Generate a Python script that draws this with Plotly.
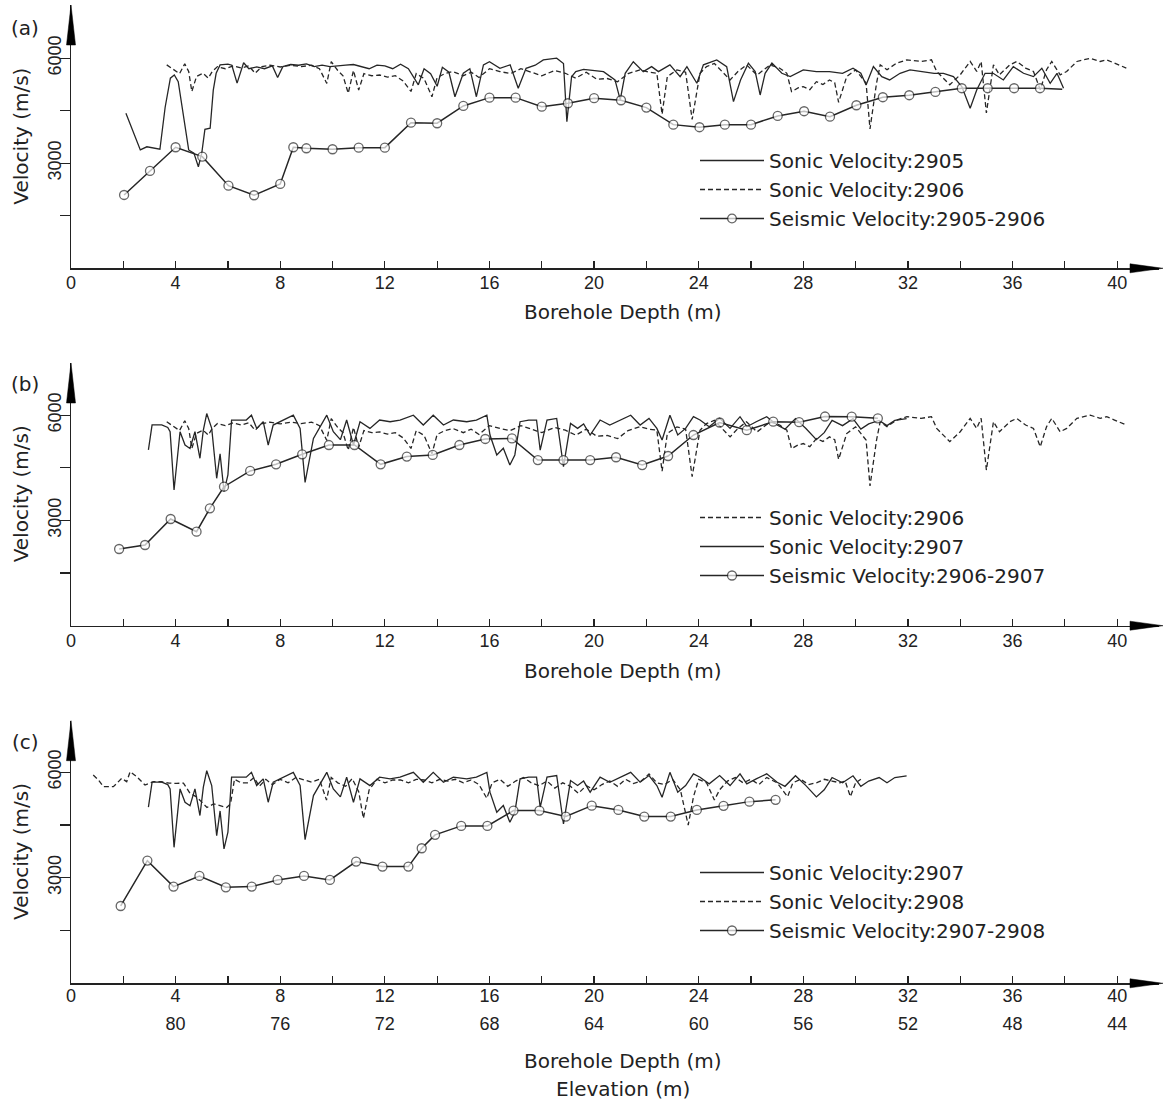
import plotly.graph_objects as go

W, H = 1164, 1102

# ---------------- data ----------------
DEPTH_TICKS = list(range(0, 41, 2))
DEPTH_LABELS = [str(d) if d % 4 == 0 else "" for d in DEPTH_TICKS]
ELEV_TICKS = [80, 76, 72, 68, 64, 60, 56, 52, 48, 44]
VEL_TICKS = [1500, 3000, 4500, 6000]
VEL_LABELS = ["", "3000", "", "6000"]

# Sonic velocity logs (depth m, velocity m/s)
SONIC_2905 = [(2.1, 4430), (2.65, 3380), (2.9, 3470), (3.15, 3430), (3.4, 3400), (3.6, 4600), (3.8, 5430),
              (3.95, 5520), (4.1, 5330), (4.5, 3380), (4.7, 3290), (4.87, 2900), (5.0, 3290), (5.12, 3970),
              (5.32, 4000), (5.44, 5090), (5.55, 5570), (5.7, 5810), (6.0, 5830), (6.15, 5800), (6.35, 5290),
              (6.6, 5870), (6.8, 5700), (7.1, 5750), (7.4, 5700), (7.7, 5780), (7.9, 5450), (8.1, 5760),
              (8.4, 5820), (8.7, 5800), (9.0, 5840), (9.3, 5760), (9.6, 5800), (9.9, 5760), (10.2, 5770),
              (10.5, 5800), (10.8, 5820), (11.1, 5750), (11.4, 5700), (11.7, 5800), (12.0, 5780), (12.3, 5700),
              (12.6, 5830), (12.9, 5700), (13.28, 5240), (13.5, 5700), (13.75, 5560), (14.0, 5200), (14.2, 5740),
              (14.45, 5600), (14.68, 4900), (15.0, 5570), (15.25, 5700), (15.5, 4900), (15.77, 5810), (16.0, 5900),
              (16.4, 5710), (16.79, 5810), (17.1, 5140), (17.4, 5710), (17.75, 5800), (18.06, 5950), (18.57, 6000),
              (18.83, 5850), (18.96, 4190), (19.14, 5470), (19.3, 5620), (19.6, 5680), (19.85, 5666), (20.36, 5617),
              (20.8, 5380), (21.0, 4810), (21.19, 5569), (21.5, 5900), (21.88, 5617), (22.2, 5760), (22.46, 5617),
              (22.9, 5810), (23.29, 5475), (23.55, 5760), (23.93, 5285), (24.18, 5810), (24.69, 5950), (25.07, 5760),
              (25.33, 4760), (25.6, 5380), (25.9, 5860), (26.16, 5617), (26.35, 4950), (26.54, 5570), (26.8, 5860),
              (27.18, 5570), (27.5, 5475), (28.0, 5666), (28.5, 5617), (29.0, 5617), (29.5, 5570), (29.9, 5714),
              (30.2, 5570), (30.4, 5237), (30.68, 5760), (31.0, 5475), (31.3, 5380), (31.7, 5570), (32.08, 5666),
              (32.5, 5617), (33.0, 5570), (33.36, 5570), (33.74, 5475), (34.06, 5190), (34.38, 4570), (34.63, 5094),
              (34.95, 5570), (35.26, 5570), (35.65, 5380), (36.03, 5760), (36.42, 5570), (36.8, 5475), (37.12, 5714),
              (37.44, 5285), (37.7, 5570), (37.95, 5140)]

SONIC_2906 = [(3.66, 5810), (3.85, 5710), (4.15, 5560), (4.35, 5840), (4.5, 5620), (4.62, 5050), (4.8, 5480),
              (5.05, 5570), (5.25, 5430), (5.4, 5620), (5.6, 5760), (5.9, 5700), (6.2, 5780), (6.5, 5720),
              (6.8, 5780), (7.04, 5570), (7.3, 5760), (7.6, 5800), (8.0, 5750), (8.4, 5800), (8.8, 5760),
              (9.2, 5800), (9.5, 5700), (9.78, 5280), (9.95, 5900), (10.2, 5650), (10.4, 5500), (10.6, 5000),
              (10.8, 5650), (11.0, 5090), (11.2, 5560), (11.5, 5500), (11.8, 5520), (12.1, 5460), (12.4, 5500),
              (12.7, 5350), (13.0, 5050), (13.2, 5560), (13.5, 5420), (13.8, 4900), (14.0, 5450), (14.3, 5560),
              (14.6, 5620), (15.0, 5500), (15.3, 5600), (15.6, 5450), (16.0, 5700), (16.4, 5620), (16.8, 5560),
              (17.2, 5700), (17.6, 5600), (18.0, 5500), (18.5, 5650), (18.9, 5570), (19.3, 5430), (19.7, 5600),
              (20.1, 5400), (20.5, 5420), (20.9, 5330), (21.3, 5560), (21.75, 5666), (22.1, 5600), (22.4, 5570),
              (22.6, 4400), (22.8, 5475), (23.17, 5666), (23.5, 5600), (23.75, 4250), (24.05, 5570), (24.3, 5760),
              (24.6, 5850), (24.95, 5570), (25.2, 5380), (25.5, 5620), (25.83, 5810), (26.23, 5520), (26.73, 5810),
              (27.1, 5714), (27.37, 5570), (27.55, 5046), (27.8, 5150), (28.0, 5190), (28.25, 5100), (28.5, 5330),
              (28.75, 5250), (29.0, 5380), (29.2, 5300), (29.35, 4740), (29.66, 5475), (30.0, 5666), (30.4, 5290),
              (30.55, 3980), (30.8, 5290), (30.94, 5812), (31.2, 5670), (31.57, 5860), (31.96, 5955), (32.5, 5907),
              (32.9, 5955), (33.1, 5622), (33.6, 5243), (34.0, 5527), (34.38, 5907), (34.63, 5622), (34.8, 5907),
              (35.0, 4435), (35.27, 5812), (35.5, 5527), (35.9, 5812), (36.16, 5907), (36.5, 5717), (36.8, 5622),
              (37.06, 5100), (37.3, 5670), (37.5, 5907), (37.82, 5527), (38.07, 5622), (38.46, 5907), (38.97, 6000),
              (39.35, 5907), (39.6, 5955), (39.9, 5860), (40.1, 5800), (40.35, 5718)]

SONIC_2907 = [(2.96, 5010), (3.1, 5720), (3.47, 5720), (3.7, 5650), (3.79, 5527), (3.94, 3866), (4.17, 5527),
              (4.36, 5148), (4.55, 5050), (4.74, 5527), (4.93, 4770), (5.06, 5575), (5.19, 6045), (5.38, 5622),
              (5.57, 4200), (5.7, 4900), (5.85, 3820), (6.0, 4300), (6.14, 5860), (6.4, 5860), (6.7, 5860),
              (6.9, 5998), (7.1, 5622), (7.35, 5812), (7.54, 5148), (7.73, 5717), (8.1, 5860), (8.5, 5998),
              (8.76, 5622), (8.95, 4085), (9.27, 5337), (9.52, 5670), (9.78, 5998), (10.03, 5527), (10.3, 5300),
              (10.54, 5860), (10.8, 5148), (11.05, 5812), (11.43, 5622), (11.8, 5860), (12.2, 5812), (12.58, 5860),
              (13.09, 5998), (13.47, 5717), (13.85, 5998), (14.24, 5717), (14.62, 5860), (15.13, 5812), (15.5, 5860),
              (15.9, 5998), (16.02, 5433), (16.28, 4865), (16.53, 5055), (16.78, 4580), (16.97, 4865), (17.17, 5812),
              (17.5, 5860), (17.8, 5860), (17.94, 5000), (18.2, 5860), (18.57, 5907), (18.83, 4530), (19.1, 5765),
              (19.37, 5622), (19.6, 5750), (19.85, 5433), (20.23, 5860), (20.6, 5717), (21.0, 5860), (21.4, 5998),
              (21.76, 5717), (22.1, 5907), (22.4, 5622), (22.6, 5290), (22.9, 5998), (23.2, 5433), (23.5, 5622),
              (23.8, 5955), (24.05, 5860), (24.4, 5670), (24.8, 5907), (25.2, 5622), (25.58, 5955), (25.84, 5670),
              (26.2, 5812), (26.6, 5955), (27.0, 5717), (27.3, 5600), (27.7, 5900), (28.1, 5620), (28.5, 5300),
              (28.8, 5500), (29.1, 5850), (29.5, 5700), (29.9, 5900), (30.2, 5600), (30.5, 5750), (30.9, 5850),
              (31.2, 5700), (31.5, 5850), (31.95, 5900)]

SONIC_2908 = [(0.85, 5922), (1.05, 5780), (1.24, 5590), (1.62, 5590), (1.94, 5827), (2.13, 5733), (2.26, 6017),
              (2.51, 5875), (2.83, 5637), (3.15, 5733), (3.45, 5730), (3.75, 5690), (4.04, 5685), (4.3, 5690),
              (4.55, 5400), (4.8, 5300), (5.0, 5150), (5.2, 5000), (5.45, 5100), (5.7, 5050), (5.95, 5000),
              (6.1, 5100), (6.25, 5800), (6.5, 5700), (6.75, 5700), (7.0, 5850), (7.2, 5600), (7.45, 5800),
              (7.7, 5650), (8.0, 5800), (8.3, 5700), (8.6, 5850), (8.9, 5780), (9.2, 5720), (9.5, 5800),
              (9.77, 5210), (9.95, 5850), (10.2, 5700), (10.5, 5600), (10.75, 5820), (11.0, 5450), (11.18, 4690),
              (11.4, 5500), (11.7, 5800), (12.0, 5700), (12.3, 5780), (12.6, 5780), (12.9, 5700), (13.2, 5800),
              (13.5, 5780), (13.8, 5700), (14.1, 5800), (14.4, 5750), (14.7, 5800), (15.0, 5700), (15.3, 5780),
              (15.6, 5650), (15.9, 5258), (16.1, 5700), (16.4, 5800), (16.7, 5600), (17.0, 5750), (17.3, 5850),
              (17.6, 5700), (17.9, 5620), (18.2, 5750), (18.5, 5550), (18.8, 5700), (19.1, 5600), (19.4, 5400),
              (19.7, 5620), (20.0, 5500), (20.3, 5650), (20.6, 5750), (20.9, 5600), (21.2, 5800), (21.5, 5680),
              (21.8, 5750), (22.1, 5950), (22.4, 5700), (22.7, 5650), (23.0, 5800), (23.3, 5500), (23.6, 4500),
              (23.8, 5300), (24.0, 5800), (24.3, 5700), (24.6, 5210), (24.8, 5500), (25.1, 5750), (25.4, 5850),
              (25.7, 5700), (26.0, 5800), (26.3, 5650), (26.6, 5850), (27.0, 5700), (27.4, 5305), (27.6, 5700),
              (27.9, 5800), (28.2, 5650), (28.5, 5700), (28.8, 5800), (29.1, 5750), (29.4, 5700), (29.6, 5750),
              (29.8, 5305), (30.0, 5700), (30.2, 5800)]

# Cross-hole seismic velocities (depth m, velocity m/s)
SEIS_2905_2906 = [(2.03, 2094), (3.02, 2780), (4.0, 3457), (5.02, 3189), (6.02, 2360), (7.0, 2086), (8.0, 2409),
                  (8.5, 3457), (9.0, 3428), (10.0, 3400), (11.0, 3446), (12.0, 3446), (13.0, 4160), (14.0, 4143),
                  (15.0, 4637), (16.0, 4874), (17.0, 4874), (18.0, 4617), (19.0, 4714), (20.0, 4860), (21.03, 4800),
                  (22.0, 4589), (23.03, 4103), (24.03, 4029), (25.0, 4103), (26.0, 4103), (27.02, 4351), (28.03, 4486),
                  (29.02, 4331), (30.03, 4657), (31.04, 4886), (32.05, 4943), (33.05, 5037), (34.06, 5143),
                  (35.05, 5143), (36.06, 5143), (37.05, 5143), (37.9, 5114)]
SEIS_2906_2907 = [(1.84, 2185), (2.83, 2299), (3.81, 3040), (4.8, 2678), (5.31, 3343), (5.85, 3960), (6.85, 4410),
                  (7.84, 4598), (8.84, 4883), (9.86, 5148), (10.84, 5148), (11.84, 4598), (12.84, 4818), (13.83, 4865),
                  (14.85, 5148), (15.84, 5320), (16.86, 5337), (17.85, 4720), (18.83, 4720), (19.85, 4720),
                  (20.84, 4800), (21.84, 4578), (22.83, 4835), (23.8, 5433), (24.8, 5790), (25.84, 5570),
                  (26.85, 5812), (27.84, 5800), (28.83, 5960), (29.85, 5955), (30.85, 5910)]
SEIS_2907_2908 = [(1.9, 2198), (2.92, 3488), (3.92, 2749), (4.91, 3052), (5.92, 2730), (6.91, 2749), (7.9, 2939),
                  (8.91, 3052), (9.9, 2939), (10.9, 3460), (11.91, 3318), (12.9, 3318), (13.41, 3840), (13.92, 4220),
                  (14.92, 4475), (15.92, 4475), (16.92, 4912), (17.91, 4912), (18.92, 4741), (19.91, 5050),
                  (20.93, 4930), (21.92, 4741), (22.93, 4741), (23.93, 4930), (24.95, 5045), (25.94, 5165),
                  (26.94, 5215)]

PANELS = [
    dict(tag="(a)", legend="legend",
         series=[("Sonic Velocity:2905", SONIC_2905, "solid"),
                 ("Sonic Velocity:2906", SONIC_2906, "dash"),
                 ("Seismic Velocity:2905-2906", SEIS_2905_2906, "seis")]),
    dict(tag="(b)", legend="legend2",
         series=[("Sonic Velocity:2906", SONIC_2906, "dash"),
                 ("Sonic Velocity:2907", SONIC_2907, "solid"),
                 ("Seismic Velocity:2906-2907", SEIS_2906_2907, "seis")]),
    dict(tag="(c)", legend="legend3",
         series=[("Sonic Velocity:2907", SONIC_2907, "solid"),
                 ("Sonic Velocity:2908", SONIC_2908, "dash"),
                 ("Seismic Velocity:2907-2908", SEIS_2907_2908, "seis")]),
]

# ---------------- layout geometry (pixels) ----------------
X0_PX, X1_PX = 71, 1159
X_RANGE = [0, 41.6]
PANEL_PX = [(5, 268.3, 7520), (363, 625.7, 7485), (720.7, 983.3, 7466)]  # top, bottom(=0), top value
LEGEND_TOP = [141, 498, 853]
TAG_Y = [27.5, 384, 742]
XTITLE_Y = [312, 671, 1061]

INK = "#222222"
LINE = "#262626"
TXT_FONT = "DejaVu Sans"
TICK_FONT = "Liberation Sans"


def px_x(p):
    return p / W


def px_y(p):
    return 1 - p / H


fig = go.Figure()

for i, pnl in enumerate(PANELS):
    xa = "x" if i == 0 else f"x{i + 1}"
    ya = "y" if i == 0 else f"y{i + 1}"
    for name, pts, style in pnl["series"]:
        xs = [p[0] for p in pts]
        ys = [p[1] for p in pts]
        if style == "seis":
            sizes = [9] * len(xs)
            if pnl["tag"] == "(a)":
                sizes[-1] = 0
            fig.add_trace(go.Scatter(
                x=xs, y=ys, name=name, mode="lines+markers", xaxis=xa, yaxis=ya,
                legend=pnl["legend"],
                line=dict(color=LINE, width=1.5),
                marker=dict(symbol="circle", size=sizes, color="white",
                            line=dict(color=LINE, width=1.3))))
        else:
            fig.add_trace(go.Scatter(
                x=xs, y=ys, name=name, mode="lines", xaxis=xa, yaxis=ya,
                legend=pnl["legend"],
                line=dict(color=LINE, width=1.3, dash="solid" if style == "solid" else "5px,3px")))

layout = dict(
    width=W, height=H,
    margin=dict(l=0, r=0, t=0, b=0, pad=0, autoexpand=False),
    paper_bgcolor="white", plot_bgcolor="white",
    showlegend=True,
    font=dict(family=TXT_FONT, size=20, color=INK),
)

shapes = []
annotations = []


def note(text, x, y, angle=0):
    return dict(text=text, x=px_x(x), y=px_y(y), xref="paper", yref="paper",
                xanchor="center", yanchor="middle", showarrow=False, textangle=angle,
                font=dict(family=TXT_FONT, size=20, color=INK))


for i, (top, bot, vmax) in enumerate(PANEL_PX):
    sfx = "" if i == 0 else str(i + 1)
    layout[f"xaxis{sfx}"] = dict(
        domain=[px_x(X0_PX), px_x(X1_PX)], range=X_RANGE, anchor=f"y{sfx}", automargin=False,
        showgrid=False, zeroline=False, showline=True, linecolor=INK, linewidth=1.5,
        ticks="inside", ticklen=7, tickwidth=1.2, tickcolor=INK,
        tickvals=DEPTH_TICKS, ticktext=DEPTH_LABELS,
        tickfont=dict(family=TICK_FONT, size=18, color=INK),
        ticklabelstandoff=-2 if i < 2 else -4, fixedrange=True)
    layout[f"yaxis{sfx}"] = dict(
        domain=[px_y(bot), px_y(top)], range=[0, vmax], anchor=f"x{sfx}", automargin=False,
        showgrid=False, zeroline=False, showline=True, linecolor=INK, linewidth=1.5,
        ticks="outside", ticklen=10, tickwidth=1.2, tickcolor=INK,
        tickvals=VEL_TICKS, ticktext=VEL_LABELS, tickangle=-90,
        tickfont=dict(family=TICK_FONT, size=18, color=INK),
        ticklabelstandoff=-9, fixedrange=True)
    # axis arrows
    shapes.append(dict(type="path", xref="paper", yref="paper",
                       path=f"M {px_x(71)} {px_y(top)} L {px_x(75.5)} {px_y(top + 40)} "
                            f"L {px_x(66.5)} {px_y(top + 40)} Z",
                       fillcolor="black", line=dict(color="black", width=0.5)))
    shapes.append(dict(type="path", xref="paper", yref="paper",
                       path=f"M {px_x(1163)} {px_y(bot)} L {px_x(1130)} {px_y(bot - 4.5)} "
                            f"L {px_x(1130)} {px_y(bot + 4.5)} Z",
                       fillcolor="black", line=dict(color="black", width=0.5)))
    annotations.append(note(PANELS[i]["tag"], 25, TAG_Y[i]))
    annotations.append(note("Velocity (m/s)", 21, (top + bot) / 2, -90))
    annotations.append(note("Borehole Depth (m)", 623, XTITLE_Y[i]))

annotations.append(note("Elevation (m)", 623, 1089))

# elevation axis under panel (c)
layout["xaxis4"] = dict(
    overlaying="x3", anchor="free", position=px_y(1011), side="bottom", automargin=False,
    range=[84 - X_RANGE[0], 84 - X_RANGE[1]], tickvals=ELEV_TICKS,
    showgrid=False, zeroline=False, showline=False, ticks="",
    tickfont=dict(family=TICK_FONT, size=18, color=INK), fixedrange=True)
fig.add_trace(go.Scatter(x=[84 - SONIC_2907[0][0]], y=[SONIC_2907[0][1]], xaxis="x4", yaxis="y3",
                         mode="markers", marker=dict(size=0, opacity=0), showlegend=False,
                         hoverinfo="skip"))

for j, key in enumerate(["legend", "legend2", "legend3"]):
    layout[key] = dict(x=px_x(695), y=px_y(LEGEND_TOP[j]), xanchor="left", yanchor="top",
                       bgcolor="rgba(0,0,0,0)", borderwidth=0, itemwidth=64,
                       font=dict(family=TXT_FONT, size=20, color=INK), tracegroupgap=0)

layout["shapes"] = shapes
layout["annotations"] = annotations
fig.update_layout(**layout)

fig.write_html("out.html", config={"displayModeBar": False, "staticPlot": True},
               post_script="document.body.style.margin='0px';")
